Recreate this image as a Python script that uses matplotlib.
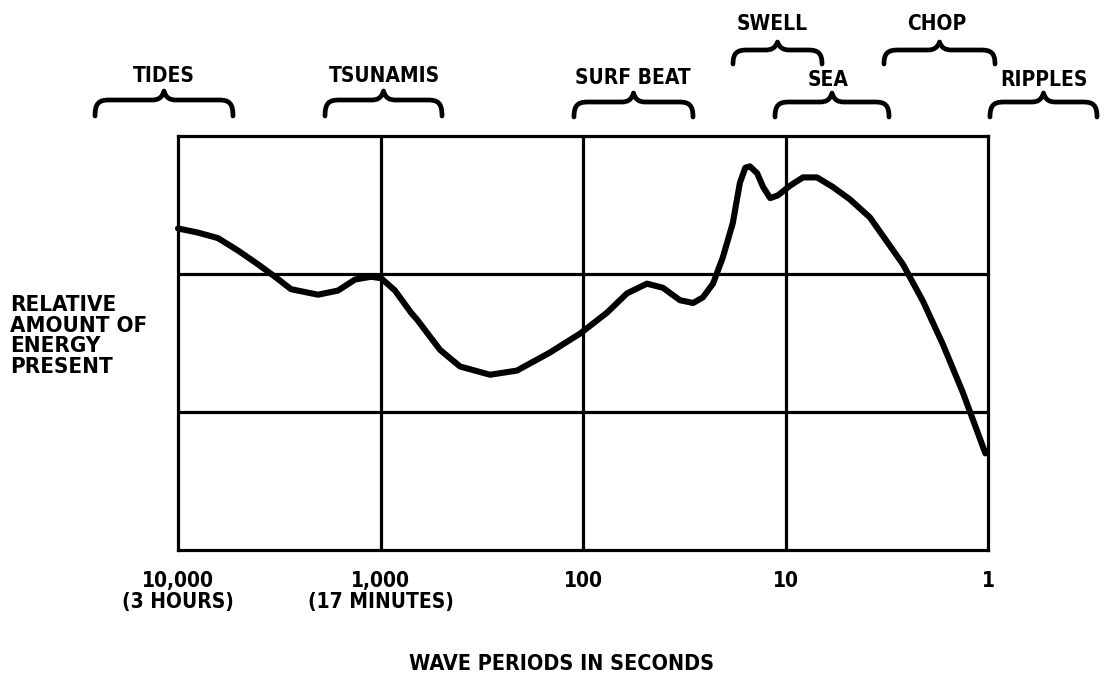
import matplotlib
matplotlib.use("Agg")
import matplotlib.pyplot as plt
import matplotlib.transforms as mtrans
from matplotlib.path import Path
from matplotlib.patches import PathPatch

# wave period (s) and relative energy
period = [10000, 7965, 6346, 5055, 4025, 3319, 2767, 2036, 1621, 1336,
          1114, 994, 848, 707, 660, 508, 405, 288, 212, 146,
          103, 76.1, 60.6, 48.3, 40.3, 33.2, 28.6, 25.6, 22.8, 20.4,
          18.2, 16.8, 15.8, 15.0, 13.8, 12.9, 11.9, 10.9, 9.50, 8.20,
          6.99, 5.83, 4.80, 3.83, 2.63, 2.09, 1.67, 1.33, 1.03]
energy = [2.33, 2.30, 2.26, 2.17, 2.07, 1.98, 1.89, 1.85, 1.88, 1.96,
          1.98, 1.97, 1.88, 1.72, 1.67, 1.45, 1.33, 1.27, 1.30, 1.43,
          1.57, 1.72, 1.86, 1.93, 1.90, 1.81, 1.79, 1.83, 1.93, 2.12,
          2.37, 2.66, 2.77, 2.78, 2.73, 2.63, 2.55, 2.57, 2.64, 2.70,
          2.70, 2.63, 2.54, 2.41, 2.07, 1.80, 1.49, 1.14, 0.70]

tick_vals = [10000, 1000, 100, 10, 1]
tick_labels = ['10,000\n(3 HOURS)', '1,000\n(17 MINUTES)', '100', '10', '1']

W, H = 1109, 681
fig = plt.figure(figsize=(W / 100, H / 100), dpi=100)
fig.patch.set_facecolor('white')
# pixel coords, y downwards
px = mtrans.Affine2D().scale(1 / W, -1 / H).translate(0, 1) + fig.transFigure

font = dict(family='DejaVu Sans', fontstretch='condensed', weight='bold', color='black')

ax = fig.add_axes([178 / W, (H - 550) / H, 810 / W, 414 / H])
ax.set_xscale('log')
ax.set_xlim(10000, 1)
ax.set_ylim(0, 3)
for s in ax.spines.values():
    s.set_linewidth(2.3)
for v in [1000, 100, 10]:
    ax.axvline(v, color='black', lw=2.3)
for v in [1, 2]:
    ax.axhline(v, color='black', lw=2.3)
ax.plot(period, energy, color='black', lw=4.4, solid_joinstyle='round',
        solid_capstyle='round', clip_on=False)

ax.set_yticks([])
ax.set_xticks(tick_vals)
ax.set_xticklabels(tick_labels, fontsize=15, linespacing=1.1, **font)
ax.xaxis.set_minor_locator(matplotlib.ticker.NullLocator())
ax.tick_params(axis='x', length=0, pad=15)

fig.text(562, 664, 'WAVE PERIODS IN SECONDS', transform=px, ha='center', va='center',
         fontsize=15.5, **font)
fig.text(10, 336, 'RELATIVE\nAMOUNT OF\nENERGY\nPRESENT', transform=px, ha='left',
         va='center', fontsize=16, linespacing=1.05, **font)


def brace(x0, x1, xm, ye, yb, yt):
    r = 14
    c = 12
    verts = [(x0, ye),
             (x0, yb + 3), (x0 + 4, yb), (x0 + r, yb),
             (xm - c, yb),
             (xm - c / 2, yb), (xm - 2, yb - 2), (xm, yt),
             (xm + 2, yb - 2), (xm + c / 2, yb), (xm + c, yb),
             (x1 - r, yb),
             (x1 - 4, yb), (x1, yb + 3), (x1, ye)]
    codes = [Path.MOVETO,
             Path.CURVE4, Path.CURVE4, Path.CURVE4,
             Path.LINETO,
             Path.CURVE4, Path.CURVE4, Path.CURVE4,
             Path.CURVE4, Path.CURVE4, Path.CURVE4,
             Path.LINETO,
             Path.CURVE4, Path.CURVE4, Path.CURVE4]
    p = PathPatch(Path(verts, codes), transform=px, fill=False, lw=3.4,
                  edgecolor='black', capstyle='round', joinstyle='round')
    fig.add_artist(p)


labels = [('TIDES', 164, 76, 95, 233, 116, 100, 91),
          ('TSUNAMIS', 384, 76, 325, 442, 116, 100, 91),
          ('SURF BEAT', 633, 78, 574, 693, 117, 102, 93),
          ('SEA', 828, 80, 775, 889, 117, 102, 93),
          ('RIPPLES', 1044, 80, 990, 1097, 117, 102, 93),
          ('SWELL', 772, 24, 733, 822, 64, 50, 42),
          ('CHOP', 937, 24, 884, 995, 64, 50, 42)]
for name, tx, ty, x0, x1, ye, yb, yt in labels:
    fig.text(tx, ty, name, transform=px, ha='center', va='center', fontsize=15, **font)
    brace(x0, x1, (x0 + x1) / 2, ye, yb, yt)

fig.savefig('out.png', dpi=100, facecolor='white')
